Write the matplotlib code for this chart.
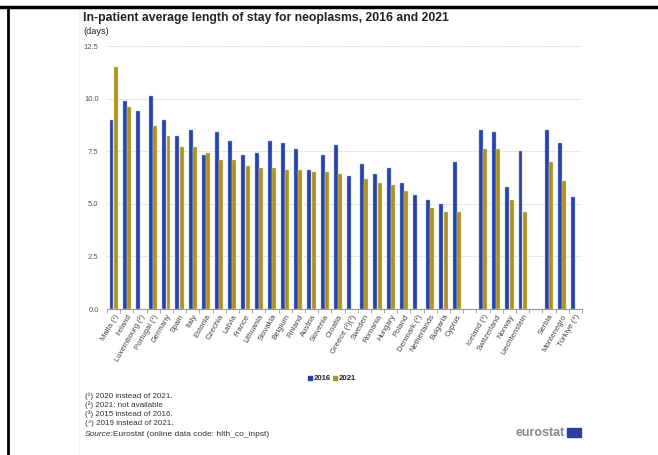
import numpy as np
import matplotlib
matplotlib.use("Agg")
import matplotlib.pyplot as plt
from matplotlib.patches import Rectangle

plt.rcParams['font.family'] = ['Liberation Sans', 'DejaVu Sans']

# Data (days), None = not available
countries = ["Malta (¹)", "Ireland", "Luxembourg (²)", "Portugal (¹)", "Germany", "Spain", "Italy",
             "Estonia", "Czechia", "Latvia", "France", "Lithuania", "Slovakia", "Belgium", "Finland",
             "Austria", "Slovenia", "Croatia", "Greece (²)(³)", "Sweden", "Romania", "Hungary", "Poland",
             "Denmark (²)", "Netherlands", "Bulgaria", "Cyprus",
             "", "Iceland (¹)", "Switzerland", "Norway", "Liechtenstein",
             "", "Serbia", "Montenegro", "Türkiye (⁴)"]
y2016 = [9.0, 9.9, 9.4, 10.1, 9.0, 8.2, 8.5, 7.3, 8.4, 8.0, 7.3, 7.4, 8.0, 7.9, 7.6,
         6.6, 7.3, 7.8, 6.3, 6.9, 6.4, 6.7, 6.0, 5.4, 5.2, 5.0, 7.0,
         None, 8.5, 8.4, 5.8, 7.5,
         None, 8.5, 7.9, 5.3]
y2021 = [11.5, 9.6, None, 8.7, 8.2, 7.7, 7.7, 7.4, 7.1, 7.1, 6.8, 6.7, 6.7, 6.6, 6.6,
         6.5, 6.5, 6.4, None, 6.2, 6.0, 5.9, 5.6, None, 4.8, 4.6, 4.6,
         None, 7.6, 7.6, 5.2, 4.6,
         None, 7.0, 6.1, None]

blue = "#2644A7"
gold = "#B09120"

fig = plt.figure(figsize=(6.58, 4.55), dpi=100)
ax = fig.add_axes([107/658, 1 - 309/455, 475/658, 263/455])

x = np.arange(len(countries))
w = 0.3
off = 0.16
for i in x:
    if y2016[i] is not None:
        ax.bar(i - off, y2016[i], width=w, color=blue, edgecolor="#9fb0e0", linewidth=0.3)
    if y2021[i] is not None:
        ax.bar(i + off, y2021[i], width=w, color=gold, edgecolor="#e0d29a", linewidth=0.3)

ax.set_xlim(-0.5, len(countries) - 0.5)
ax.set_ylim(0, 12.5)
ax.set_yticks([0, 2.5, 5, 7.5, 10, 12.5])
ax.set_yticklabels(["0.0", "2.5", "5.0", "7.5", "10.0", "12.5"])
ax.tick_params(axis='y', length=0, labelsize=5.5, labelcolor="#555555", pad=6)
ax.grid(axis='y', color="#cccccc", linestyle=(0, (1, 1)), linewidth=0.6)
ax.set_axisbelow(True)

real = [i for i, c in enumerate(countries) if c]
ax.set_xticks(real)
ax.set_xticklabels([countries[i] for i in real], rotation=60, ha="right",
                   rotation_mode="anchor", fontsize=5.6, color="#444444")
ax.tick_params(axis='x', length=0, pad=3)
ax.set_xticks(np.arange(-0.5, len(countries)), minor=True)
ax.tick_params(axis='x', which='minor', length=3, color="#999999", width=0.6)

for s in ["top", "right", "left"]:
    ax.spines[s].set_visible(False)
ax.spines["bottom"].set_color("#999999")
ax.spines["bottom"].set_linewidth(0.8)

# title
fig.text(83/658, 1 - 18/455, "In-patient average length of stay for neoplasms, 2016 and 2021",
         fontsize=8.8, fontweight="bold", color="#222222", va="center")
fig.text(83/658, 1 - 32/455, "(days)", fontsize=6.6, color="#222222", va="center")

# legend
fig.patches.append(Rectangle((308/658, 1 - 380/455), 4/658, 4/455, transform=fig.transFigure,
                             color=blue))
fig.text(314/658, 1 - 378/455, "2016", fontsize=5.6, fontweight="bold", color="#222222", va="center")
fig.patches.append(Rectangle((333/658, 1 - 380/455), 4/658, 4/455, transform=fig.transFigure,
                             color=gold))
fig.text(339/658, 1 - 378/455, "2021", fontsize=5.6, fontweight="bold", color="#222222", va="center")

# footnotes
notes = ["(¹) 2020 instead of 2021.", "(²) 2021: not available", "(³) 2015 instead of 2016.",
         "(⁴) 2019 instead of 2021."]
for k, n in enumerate(notes):
    fig.text(85/658, 1 - (396 + 9.2 * k)/455, n, fontsize=5.8, color="#333333", va="center")
fig.text(85/658, 1 - 434/455, "Source:", fontsize=6, style="italic", color="#333333", va="center")
fig.text(113/658, 1 - 434/455, "Eurostat (online data code: hlth_co_inpst)", fontsize=6,
         color="#333333", va="center")

# logo
fig.text(565/658, 1 - 433/455, "eurostat", fontsize=9, fontweight="bold", color="#858890",
         ha="right", va="center")
fig.patches.append(Rectangle((567/658, 1 - 437/455), 14/658, 9/455, transform=fig.transFigure,
                             color="#2a3fa0"))

# frame
fig.add_artist(plt.Line2D([0, 1], [1 - 7/455, 1 - 7/455], color="black", linewidth=2.5,
                          transform=fig.transFigure))
fig.add_artist(plt.Line2D([8/658, 8/658], [0, 1 - 7/455], color="black", linewidth=2,
                          transform=fig.transFigure))
fig.add_artist(plt.Line2D([79/658, 79/658], [0, 1 - 10/455], color="#f0f0f0", linewidth=0.6,
                          transform=fig.transFigure))

fig.savefig("out.png", dpi=100)
